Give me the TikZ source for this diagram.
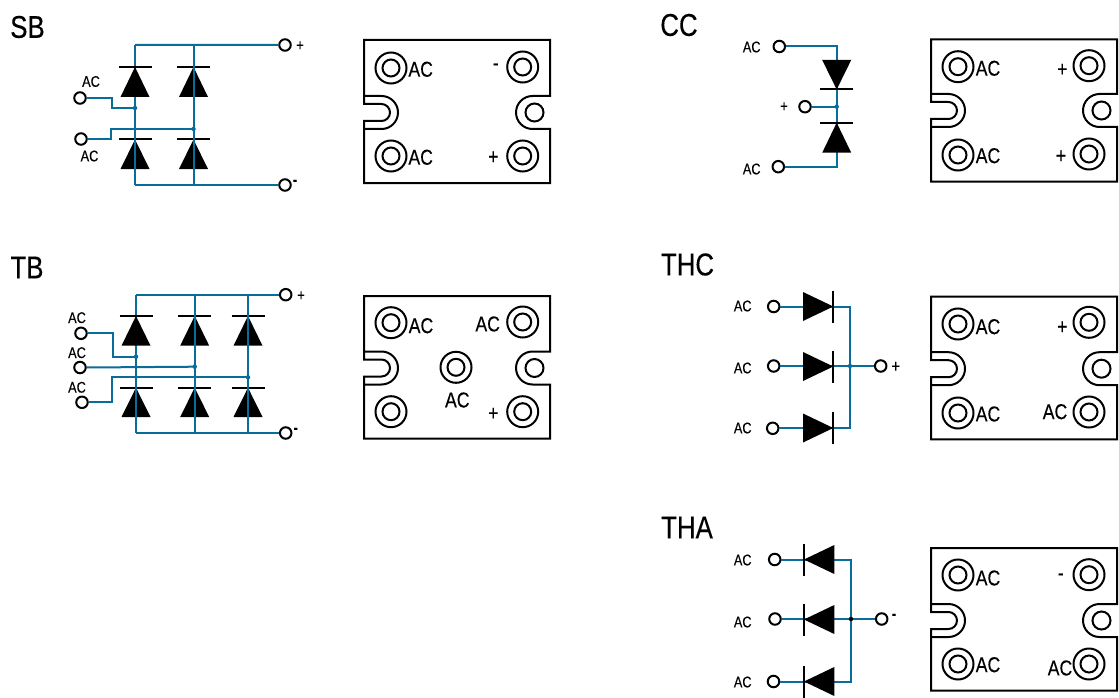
\documentclass[tikz,border=0pt]{standalone}
\usepackage{fontspec}
\setmainfont[FakeStretch=0.82,FakeBold=0.25]{Liberation Sans}
\definecolor{wire}{HTML}{0A6C9A}
\tikzset{
  wireline/.style={draw=wire,line width=2pt},
  term/.style={circle,draw=black,fill=white,line width=2pt,minimum size=11.5pt,inner sep=0pt},
  title/.style={inner sep=0pt,font=\fontsize{31.5}{31.5}\selectfont},
  smalltext/.style={inner sep=0pt,font=\fontsize{15.5}{15.5}\selectfont},
  signtext/.style={inner sep=0pt,font=\fontsize{16}{16}\selectfont},
  minustext/.style={inner sep=0pt,font=\bfseries\fontsize{16}{16}\selectfont},
  modtext/.style={inner sep=0pt,font=\fontsize{21.5}{21.5}\selectfont},
  housing/.style={draw=black,line width=2pt,fill=white,line join=miter},
  hole/.style={circle,draw=black,line width=2pt,inner sep=0pt},
  jdot/.style={circle,fill=#1,inner sep=0pt,minimum size=4.5pt},
  jdot/.default=wire,
  diodebar/.style={draw=black,line width=2pt},
}
% vertical diode: #1 x, #2 apex/bar y, #3 base y
\newcommand{\vdiode}[3]{%
  \fill[black] (#1,#2) -- (#1+14.5,#3) -- (#1-14.5,#3) -- cycle;
  \draw[diodebar] (#1-16.5,#2) -- (#1+16.5,#2);}
% horizontal diode: #1 y, #2 bar/apex x, #3 base x
\newcommand{\hdiode}[3]{%
  \fill[black] (#2,#1) -- (#3,#1-14.5) -- (#3,#1+14.5) -- cycle;
  \draw[diodebar] (#2,#1-16) -- (#2,#1+16);}
% housing: #1 left, #2 right, #3 top, #4 bottom, #5 slot centre y (y axis points down)
\newcommand{\housing}[5]{%
  \draw[housing] (#1,#5-8.5) -- (#1+17.5,#5-8.5) arc[start angle=-90,end angle=90,radius=8.5] -- (#1,#5+8.5)
    -- (#1,#4) -- (#2,#4) -- (#2,#5+16.5) -- (#2-17.5,#5+16.5)
    arc[start angle=90,end angle=270,radius=16.5] -- (#2,#5-16.5) -- (#2,#3) -- (#1,#3) -- cycle;
  \draw[line width=2pt] (#1,#5-16.5) -- (#1+17.5,#5-16.5) arc[start angle=-90,end angle=90,radius=16.5] -- (#1,#5+16.5);
  \node[hole,minimum size=18pt] at (#2-15.5,#5) {};}
% mounting hole: #1 name, #2 x, #3 y
\newcommand{\mhole}[3]{%
  \node[hole,minimum size=31pt] (#1) at (#2,#3) {};
  \node[hole,minimum size=17pt] at (#2,#3) {};}
\begin{document}
\begin{tikzpicture}[x=1pt,y=-1pt]
\useasboundingbox[fill=white] (0,0) rectangle (1119,698);

% ---------- titles
\node[title] (tSB) at (27.5,27) {SB};
\node[title] (tTB) at (27,267.5) {TB};
\node[title] (tCC) at (679,25) {CC};
\node[title] (tTHC) at (687.5,264.5) {THC};
\node[title] (tTHA) at (687,527.5) {THA};

% ---------- SB circuit
\node[term] (sbp) at (285,45) {};
\node[term] (sbm) at (285,185) {};
\node[term] (sba) at (80,98) {};
\node[term] (sbb) at (81,139) {};
\coordinate (sbTL) at (135,44.8);
\coordinate (sbTR) at (193.5,44.8);
\coordinate (sbBL) at (135,185);
\coordinate (sbBR) at (193.5,185);
\coordinate (sbJa) at (135,108);
\coordinate (sbJb) at (193.5,129);
\draw[wireline] (sbTL) -- (sbJa);
\vdiode{135}{67}{97}
\vdiode{193.5}{67}{97}
\vdiode{135}{139.5}{169}
\vdiode{193.5}{139.5}{169}
\draw[wireline] (sbJa) -- (sbBL);
\draw[wireline] (sbTL) -- (sbp.west);
\draw[wireline] (sbBL) -- (sbm.west);
\draw[wireline] (sbTR) -- (sbBR);
\draw[wireline] (sba.east) -- (112,98) -- (112,108) -- (sbJa);
\draw[wireline] (sbb.east) -- (111,139) -- (111,129) -- (sbJb);
\node[jdot] at (sbJa) {};
\node[jdot] at (sbJb) {};
\node[smalltext] (sbl1) at (91,81.5) {AC};
\node[smalltext] (sbl2) at (89.5,156) {AC};
\node[signtext] (sbl3) at (300,46) {+};
\node[minustext] (sbl4) at (295,182.5) {-};

% ---------- TB circuit
\node[term] (tbp) at (285.7,294.7) {};
\node[term] (tbm) at (285.7,433) {};
\node[term] (tba) at (81,333.3) {};
\node[term] (tbb) at (80,367.5) {};
\node[term] (tbc) at (82,402.3) {};
\coordinate (tbT1) at (136,294.7);
\coordinate (tbT2) at (194.7,294.7);
\coordinate (tbT3) at (248,294.7);
\coordinate (tbB1) at (136,433);
\coordinate (tbB2) at (194.7,433);
\coordinate (tbB3) at (248,433);
\coordinate (tbJa) at (136,356.7);
\coordinate (tbJb) at (194.7,366.7);
\coordinate (tbJc) at (248,377.3);
\draw[wireline] (tbT1) -- (tbJa);
\vdiode{136}{316}{345.7}
\vdiode{194.7}{316}{345.7}
\vdiode{248}{316}{345.7}
\vdiode{136}{387.7}{417}
\vdiode{194.7}{387.7}{417}
\vdiode{248}{387.7}{417}
\draw[wireline] (tbJa) -- (tbB1);
\draw[wireline] (tbT2) -- (tbB2);
\draw[wireline] (tbT3) -- (tbB3);
\draw[wireline] (tbT1) -- (tbp.west);
\draw[wireline] (tbB1) -- (tbm.west);
\draw[wireline] (tba.east) -- (112.5,333.3) -- (112.5,356.7) -- (tbJa);
\draw[wireline] (tbb.east) -- (tbJb);
\draw[wireline] (tbc.east) -- (112,402.3) -- (112,377.3) -- (tbJc);
\node[jdot] at (tbJa) {};
\node[jdot] at (tbJb) {};
\node[jdot] at (tbJc) {};
\node[smalltext] (tbl1) at (77,317.7) {AC};
\node[smalltext] (tbl2) at (77,352.7) {AC};
\node[smalltext] (tbl3) at (77,387.3) {AC};
\node[signtext] (tbl4) at (301,296) {+};
\node[minustext] (tbl5) at (295.7,430.5) {-};

% ---------- CC circuit
\node[term] (cca) at (779.3,46.5) {};
\node[term] (ccp) at (805,106.7) {};
\node[term] (ccb) at (778.3,166.7) {};
\coordinate (ccT) at (836.7,46.5);
\coordinate (ccB) at (836.7,166.7);
\coordinate (ccJ) at (836.7,106.7);
\draw[wireline] (cca.east) -- (ccT) -- (ccB) -- (ccb.east);
\draw[wireline] (ccp.east) -- (ccJ);
\vdiode{836.7}{89.5}{60}
\vdiode{836.7}{122.7}{152.7}
\node[jdot] at (ccJ) {};
\node[smalltext] (ccl1) at (751.7,47) {AC};
\node[smalltext] (ccl2) at (751.7,169) {AC};
\node[signtext] (ccl3) at (784,107) {+};

% ---------- THC circuit
\node[term] (thca) at (773.7,306.5) {};
\node[term] (thcb) at (773.7,366) {};
\node[term] (thcc) at (772.7,428.3) {};
\node[term] (thcp) at (880.7,366) {};
\coordinate (thcT) at (850,306.5);
\coordinate (thcB) at (850,428.3);
\coordinate (thcJ) at (850,366);
\draw[wireline] (thca.east) -- (thcT) -- (thcB) -- (thcc.east);
\draw[wireline] (thcb.east) -- (thcp.west);
\hdiode{306.5}{833.3}{803}
\hdiode{366.5}{833.3}{803}
\hdiode{428}{833.3}{803}
\node[jdot] at (thcJ) {};
\node[smalltext] (thcl1) at (742.7,306) {AC};
\node[smalltext] (thcl2) at (742.7,368) {AC};
\node[smalltext] (thcl3) at (742.7,428) {AC};
\node[modtext,font=\fontsize{18}{18}\selectfont] (thcl4) at (895.7,367) {+};

% ---------- THA circuit
\node[term] (thaa) at (774.7,559.5) {};
\node[term] (thab) at (775,619) {};
\node[term] (thac) at (773.5,681.5) {};
\node[term] (tham) at (881.7,619) {};
\coordinate (thaT) at (851,559.5);
\coordinate (thaB) at (851,681.5);
\coordinate (thaJ) at (851,619);
\draw[wireline] (thaa.east) -- (thaT) -- (thaB) -- (thac.east);
\draw[wireline] (thab.east) -- (tham.west);
\hdiode{559.5}{804}{834.3}
\hdiode{619.5}{804}{834.3}
\hdiode{681.5}{804}{834.3}
\node[jdot=black] at (thaJ) {};
\node[smalltext] (thal1) at (742.7,560) {AC};
\node[smalltext] (thal2) at (742.7,622) {AC};
\node[smalltext] (thal3) at (742.7,682) {AC};
\node[minustext] (thal4) at (894,616.5) {-};

% ---------- SB module
\housing{364}{550}{40}{183}{112.5}
\mhole{ma1}{391}{68}
\mhole{ma2}{522.7}{67}
\mhole{ma3}{391}{156}
\mhole{ma4}{522.7}{156}
\node[modtext] (mat1) at (420.7,69.3) {AC};
\node[modtext] (mat2) at (420.7,157.3) {AC};
\node[modtext] (mat3) at (495.7,67) {-};
\node[modtext] (mat4) at (493.3,157.7) {+};

% ---------- TB module
\housing{364}{550}{296}{438.5}{368}
\mhole{mb1}{391}{322.7}
\mhole{mb2}{522.7}{322}
\mhole{mb3}{391}{411.7}
\mhole{mb4}{522.7}{411.7}
\mhole{mb5}{456}{367.3}
\node[modtext] (mbt1) at (421,325.7) {AC};
\node[modtext] (mbt2) at (487.7,324) {AC};
\node[modtext] (mbt3) at (457.3,400) {AC};
\node[modtext] (mbt4) at (493.3,414) {+};

% ---------- CC module
\housing{931}{1117}{39.5}{181.5}{110.5}
\mhole{mc1}{958}{66.7}
\mhole{mc2}{1089}{65.7}
\mhole{mc3}{958}{155}
\mhole{mc4}{1089}{154}
\node[modtext] (mct1) at (988,68.3) {AC};
\node[modtext] (mct2) at (988,155.7) {AC};
\node[modtext] (mct3) at (1062.3,70) {+};
\node[modtext] (mct4) at (1061,156.7) {+};

% ---------- THC module
\housing{931}{1117}{296.5}{439.3}{368.7}
\mhole{md1}{958}{324}
\mhole{md2}{1089}{322.3}
\mhole{md3}{958}{413}
\mhole{md4}{1089}{412}
\node[modtext] (mdt1) at (988,326.7) {AC};
\node[modtext] (mdt2) at (988,414) {AC};
\node[modtext] (mdt3) at (1062.3,327.7) {+};
\node[modtext] (mdt4) at (1055,411.7) {AC};

% ---------- THA module
\housing{931}{1117}{548}{690.7}{620.5}
\mhole{me1}{958}{575}
\mhole{me2}{1089}{574.7}
\mhole{me3}{958}{664}
\mhole{me4}{1089}{664}
\node[modtext] (met1) at (988,578) {AC};
\node[modtext] (met2) at (988,664.7) {AC};
\node[modtext] (met3) at (1060.7,577) {-};
\node[modtext] (met4) at (1060,668) {AC};
\end{tikzpicture}
\end{document}
